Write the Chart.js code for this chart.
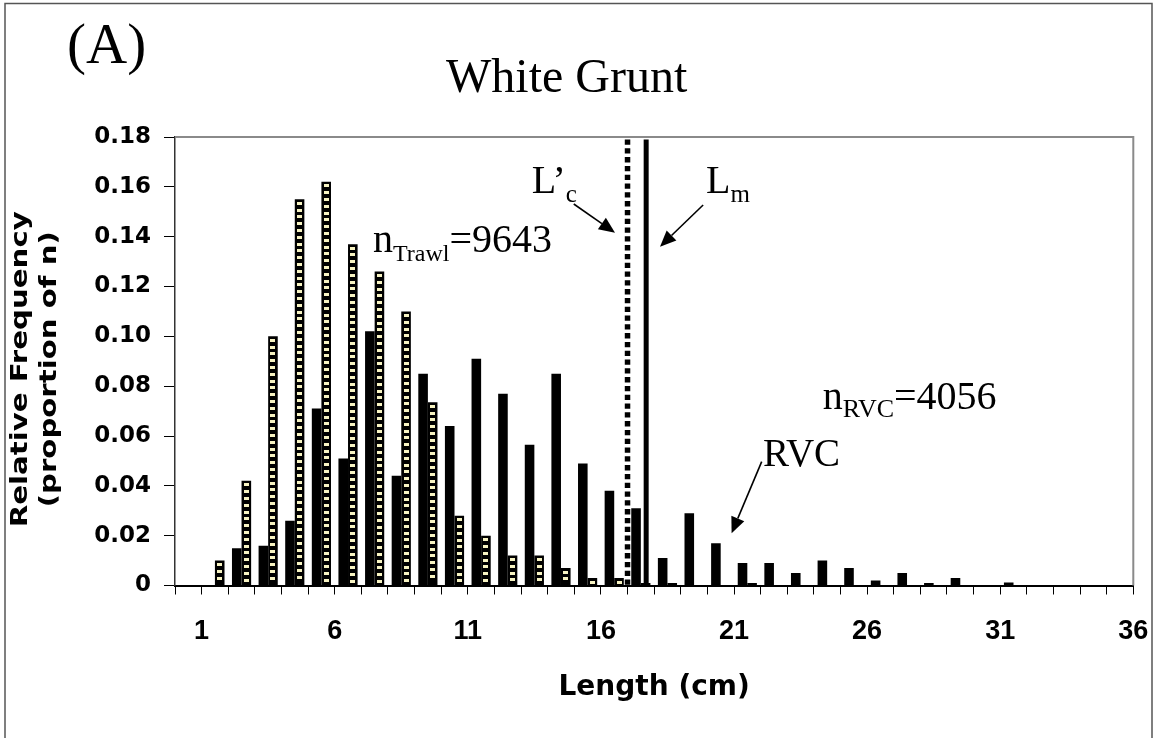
<!DOCTYPE html>
<html>
<head>
<meta charset="utf-8">
<script src="https://cdn.jsdelivr.net/npm/chart.js@4.4.1/dist/chart.umd.min.js"></script>
<style>
  html, body { margin: 0; padding: 0; background: #fff; }
</style>
</head>
<body>
<canvas id="chart" width="1157" height="738"></canvas>
<script>
// 1 cm length classes (lower edge, cm)
var lengths = [1, 2, 3, 4, 5, 6, 7, 8, 9, 10, 11, 12, 13, 14, 15, 16, 17, 18,
  19, 20, 21, 22, 23, 24, 25, 26, 27, 28, 29, 30, 31, 32, 33, 34, 35];
var rvcFreq = [0, 0.015, 0.016, 0.026, 0.071, 0.051, 0.102, 0.044, 0.085, 0.064,
  0.091, 0.077, 0.0565, 0.085, 0.049, 0.038, 0.031, 0.011, 0.029, 0.017,
  0.009, 0.009, 0.005, 0.010, 0.007, 0.002, 0.005, 0.001, 0.003, 0, 0.0012,
  0, 0, 0, 0];
var trawlFreq = [0.010, 0.042, 0.100, 0.155, 0.162, 0.137, 0.126, 0.110, 0.0735, 0.028,
  0.020, 0.012, 0.012, 0.007, 0.003, 0.003, 0.001, 0.001, 0, 0,
  0.001, 0, 0, 0, 0, 0, 0, 0, 0, 0, 0, 0, 0, 0, 0];
var xTickLabels = [1, 6, 11, 16, 21, 26, 31, 36];
var yTickLabels = ['0', '0.02', '0.04', '0.06', '0.08', '0.10', '0.12', '0.14', '0.16', '0.18'];
var yTitle = ['Relative Frequency', '(proportion of n)'];

// reference lengths (cm)
var lcPrime = 17.0;
var lm = 17.7;
var nTrawl = 9643;
var nRVC = 4056;

// annotation anchors in data units [length, frequency]
var lcText = [13.4, 0.1575];
var lmText = [19.95, 0.1575];
var trawlText = [7.44, 0.1338];
var rvcNText = [24.33, 0.0708];
var rvcText = [22.09, 0.048];
var lcArrow = [[14.98, 0.1531], [16.53, 0.1416]];
var lmArrow = [[19.84, 0.1527], [18.22, 0.136]];
var rvcArrow = [[22.04, 0.0497], [20.91, 0.021]];

var serif = '"Liberation Serif", "Times New Roman", serif';

function drawArrow(ctx, x1, y1, x2, y2) {
  var a = Math.atan2(y2 - y1, x2 - x1);
  var len = 16, half = 7;
  var bx = x2 - len * Math.cos(a), by = y2 - len * Math.sin(a);
  ctx.lineWidth = 1.6;
  ctx.beginPath();
  ctx.moveTo(x1, y1);
  ctx.lineTo(bx, by);
  ctx.stroke();
  ctx.beginPath();
  ctx.moveTo(x2, y2);
  ctx.lineTo(bx + half * Math.sin(a), by - half * Math.cos(a));
  ctx.lineTo(bx - half * Math.sin(a), by + half * Math.cos(a));
  ctx.closePath();
  ctx.fill();
}

// parts: [text, size, baseline shift]
function drawParts(ctx, parts, x, y) {
  parts.forEach(function (p) {
    ctx.font = p[1] + 'px ' + serif;
    ctx.fillText(p[0], x, y + p[2]);
    x += ctx.measureText(p[0]).width;
  });
}

var annotate = {
  id: 'annotate',
  afterDatasetsDraw: function (chart) {
    var ctx = chart.ctx;
    var xs = chart.scales.x, ys = chart.scales.y;
    var area = chart.chartArea;
    ctx.save();

    // light squares inside the trawl bars
    ctx.fillStyle = '#f7f3c2';
    chart.getDatasetMeta(1).data.forEach(function (bar) {
      var w = Math.round(bar.width - 5);
      var left = Math.round(bar.x - w / 2);
      for (var t = bar.y + 2.5; t + 2.7 <= bar.base - 1; t += 6.8) {
        ctx.fillRect(left, Math.round(t), w, 3);
      }
    });

    // L'c (dotted) and Lm (solid)
    ctx.strokeStyle = '#000';
    var xc = xs.getPixelForValue(lcPrime);
    ctx.lineWidth = 5.5;
    ctx.setLineDash([5.3, 3.5]);
    ctx.beginPath();
    ctx.moveTo(xc, ys.getPixelForValue(0.179));
    ctx.lineTo(xc, ys.getPixelForValue(0));
    ctx.stroke();
    ctx.setLineDash([]);
    var xm = xs.getPixelForValue(lm);
    ctx.lineWidth = 5;
    ctx.beginPath();
    ctx.moveTo(xm, ys.getPixelForValue(0.179));
    ctx.lineTo(xm, ys.getPixelForValue(0));
    ctx.stroke();

    // plot frame top / right
    ctx.strokeStyle = '#8a8a8a';
    ctx.lineWidth = 2;
    ctx.beginPath();
    ctx.moveTo(area.left, area.top);
    ctx.lineTo(area.right, area.top);
    ctx.lineTo(area.right, area.bottom);
    ctx.stroke();

    // text labels
    ctx.fillStyle = '#000';
    ctx.strokeStyle = '#000';
    ctx.textAlign = 'left';
    ctx.textBaseline = 'alphabetic';
    function px(p) { return [xs.getPixelForValue(p[0]), ys.getPixelForValue(p[1])]; }
    var p;
    p = px(lcText); drawParts(ctx, [['L\u2019', 40, 0], ['c', 25, 9]], p[0], p[1]);
    p = px(lmText); drawParts(ctx, [['L', 40, 0], ['m', 25, 9]], p[0], p[1]);
    p = px(trawlText); drawParts(ctx, [['n', 40, 0], ['Trawl', 24, 9], ['=' + nTrawl, 40, 0]], p[0], p[1]);
    p = px(rvcNText); drawParts(ctx, [['n', 40, 0], ['RVC', 26, 8], ['=' + nRVC, 40, 0]], p[0], p[1]);
    p = px(rvcText); drawParts(ctx, [['RVC', 39, 0]], p[0], p[1]);

    [lcArrow, lmArrow, rvcArrow].forEach(function (ar) {
      var a = px(ar[0]), b = px(ar[1]);
      drawArrow(ctx, a[0], a[1], b[0], b[1]);
    });
    ctx.restore();
  },
  afterDraw: function (chart) {
    var ctx = chart.ctx;
    var area = chart.chartArea;
    ctx.save();
    ctx.fillStyle = '#000';
    // panel letter
    ctx.textBaseline = 'alphabetic';
    ctx.font = '57px ' + serif;
    ctx.fillText('(A)', 67, 63);
    // y axis title, two rotated lines (wide lettering as in the original)
    ctx.translate(21, (area.top + area.bottom) / 2 + 8);
    ctx.rotate(-Math.PI / 2);
    ctx.scale(1.27, 1);
    ctx.font = 'bold 23px "DejaVu Sans", sans-serif';
    ctx.textAlign = 'center';
    ctx.textBaseline = 'middle';
    ctx.fillText(yTitle[0], 0, 0);
    ctx.fillText(yTitle[1], 0, 29);
    ctx.restore();
    // outer frame
    ctx.save();
    ctx.strokeStyle = '#555';
    ctx.lineWidth = 1.5;
    ctx.strokeRect(5, 3.5, 1147, 760);
    ctx.restore();
  }
};

var element = document.getElementById('chart');

var options = {
  responsive: false,
  animation: false,
  layout: {
    padding: { left: 0, right: 23.7, top: 0, bottom: 0 },
  },
  plugins: {
    legend: { display: false },
    tooltip: { enabled: false },
    title: {
      display: true,
      text: 'White Grunt',
      color: '#000',
      font: { family: serif, size: 48, weight: 'normal', lineHeight: 1.2 },
      padding: { top: 51, bottom: 28.4 },
    },
  },
  scales: {
    x: {
      type: 'linear',
      min: 0,
      max: 36,
      offset: false,
      afterFit: function (scale) { scale.height = 152.5; },
      border: { color: '#000', width: 2 },
      grid: { offset: false, drawOnChartArea: false, tickLength: 9, color: '#000', lineWidth: 1 },
      ticks: {
        stepSize: 1,
        autoSkip: false,
        maxRotation: 0,
        padding: 3,
        color: '#000',
        font: { family: '"Liberation Sans", Arial, sans-serif', size: 27, weight: 'bold', lineHeight: 2.53 },
        callback: function (val) {
          return xTickLabels.indexOf(val) >= 0 ? String(val) : '';
        },
      },
      title: {
        display: true,
        text: 'Length (cm)',
        color: '#000',
        font: { family: '"DejaVu Sans", sans-serif', size: 28, weight: 'bold', lineHeight: 1.2 },
        padding: { top: 0, bottom: 33 },
      },
    },
    y: {
      min: 0,
      max: 0.18,
      afterFit: function (scale) { scale.width = 175; },
      border: { color: '#333', width: 1.5 },
      grid: { drawOnChartArea: false, tickLength: 11, color: '#000', lineWidth: 1 },
      ticks: {
        stepSize: 0.02,
        padding: 13,
        color: '#000',
        font: { family: '"DejaVu Sans", sans-serif', size: 23, weight: 'bold' },
        callback: function (val, i) {
          return yTickLabels[i];
        },
      },
    },
  },
};

var chart = new Chart(element, {
  type: 'bar',
  data: {
    datasets: [
      {
        label: 'RVC',
        data: lengths.map(function (l, i) { return { x: l + 0.5, y: rvcFreq[i] }; }),
        backgroundColor: '#000',
        categoryPercentage: 0.72,
        barPercentage: 1,
      },
      {
        label: 'Trawl',
        data: lengths.map(function (l, i) { return { x: l + 0.5, y: trawlFreq[i] }; }),
        backgroundColor: '#000',
        categoryPercentage: 0.72,
        barPercentage: 1,
      },
    ],
  },
  options: options,
  plugins: [annotate],
});
</script>
</body>
</html>
